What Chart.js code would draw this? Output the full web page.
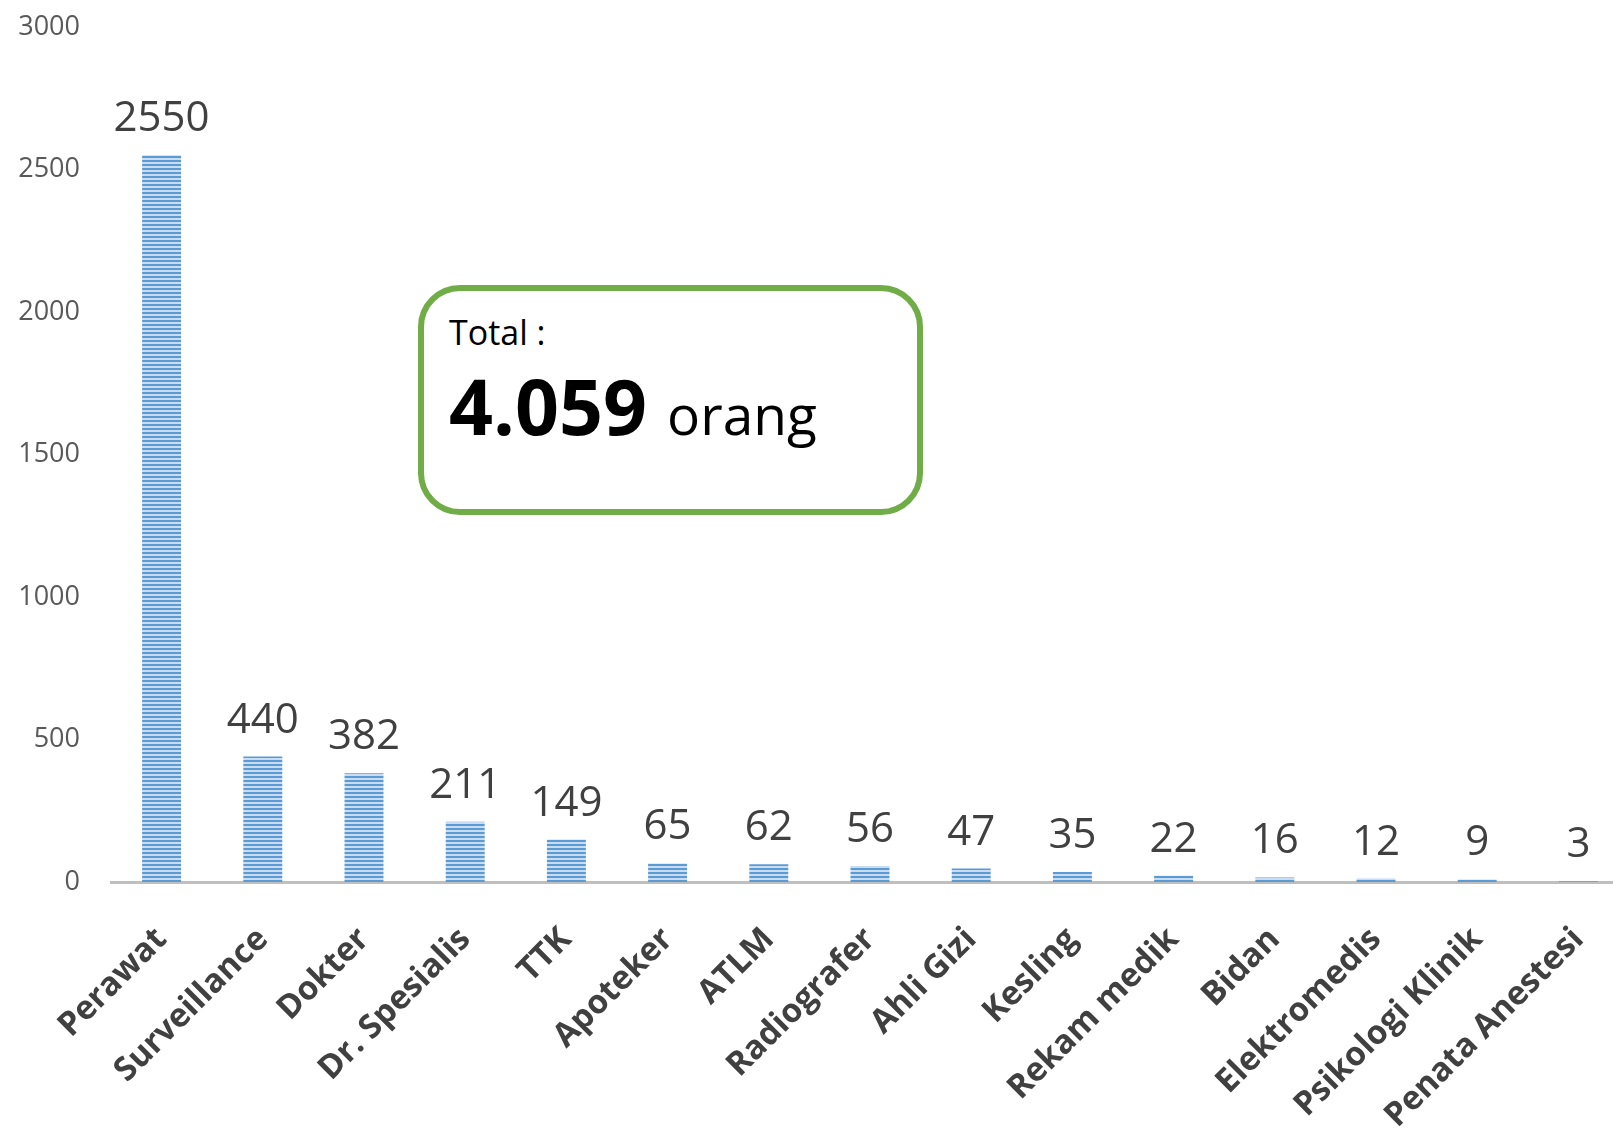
<!DOCTYPE html>
<html>
<head>
<meta charset="utf-8">
<script src="https://cdn.jsdelivr.net/npm/chart.js@4"></script>
<style>
	html, body { margin: 0; padding: 0; background: #fff; overflow: hidden; }
	#wrap { position: relative; width: 1613px; height: 1134px; overflow: hidden; }
	#total {
		position: absolute;
		left: 418px;
		top: 285px;
		width: 493px;
		height: 218px;
		border: 6px solid #70ad47;
		border-radius: 42px;
		background: #fff;
		font-family: "Open Sans", sans-serif;
		color: #000;
	}
	#total .lbl { position: absolute; left: 25px; top: 18px; font-size: 34px; }
	#total .num { position: absolute; left: 25px; top: 62px; font-size: 77px; font-weight: bold; white-space: nowrap; }
	#total .num span { font-size: 55px; font-weight: normal; }
</style>
</head>
<body>
<div id="wrap">
	<canvas id="chart" width="1640" height="1134"></canvas>
	<div id="total">
		<div class="lbl">Total :</div>
		<div class="num">4.059 <span>orang</span></div>
	</div>
</div>
<script>
const categories = ["Perawat", "Surveillance", "Dokter", "Dr. Spesialis", "TTK", "Apoteker", "ATLM",
	"Radiografer", "Ahli Gizi", "Kesling", "Rekam medik", "Bidan", "Elektromedis", "Psikologi Klinik", "Penata Anestesi"];
const jumlah = [2550, 440, 382, 211, 149, 65, 62, 56, 47, 35, 22, 16, 12, 9, 3];
const yTicks = [0, 500, 1000, 1500, 2000, 2500, 3000];

const makeStripes = () => {
	const c = document.createElement("canvas");
	c.width = 4;
	c.height = 4;
	const g = c.getContext("2d");
	g.fillStyle = "#c9dcf0";
	g.fillRect(0, 0, 4, 4);
	g.fillStyle = "#5b9bd5";
	g.fillRect(0, 0, 4, 2);
	return g.createPattern(c, "repeat");
};

const valueLabels = {
	id: "valueLabels",
	afterDatasetsDraw(chart) {
		const ctx = chart.ctx;
		const meta = chart.getDatasetMeta(0);
		ctx.save();
		ctx.font = "42px 'Open Sans', sans-serif";
		ctx.fillStyle = "#404040";
		ctx.textAlign = "center";
		ctx.textBaseline = "bottom";
		meta.data.forEach((bar, i) => {
			ctx.fillText(String(jumlah[i]), bar.x, bar.y - 15);
		});
		ctx.restore();
	},
};

const getChart = () => {
	const ctx = document.getElementById("chart").getContext("2d");
	const stripes = makeStripes();

	const data = {
		labels: categories,
		datasets: [
			{
				data: jumlah,
				backgroundColor: stripes,
				borderWidth: 0,
				barPercentage: 0.385,
				categoryPercentage: 1,
			},
		],
	};

	const options = {
		responsive: false,
		animation: false,
		layout: { padding: { top: 27, right: 11, left: 0, bottom: 0 } },
		plugins: {
			legend: { display: false },
			tooltip: { enabled: false },
		},
		scales: {
			x: {
				grid: { display: false },
				border: { color: "#bfbfbf", width: 3 },
				ticks: {
					color: "#404040",
					font: { family: "'Open Sans', sans-serif", size: 33, weight: "bold" },
					minRotation: 45,
					maxRotation: 45,
					autoSkip: false,
					padding: 30,
				},
				afterFit: s => { s.height = 252; },
			},
			y: {
				min: 0,
				max: 3000,
				grid: { display: false },
				border: { display: false },
				afterBuildTicks: s => { s.ticks = yTicks.map(v => ({ value: v })); },
				ticks: {
					color: "#595959",
					font: { family: "'Open Sans', sans-serif", size: 27 },
					padding: 23,
					callback: v => String(v),
				},
				afterFit: s => {
					s.width = 111;
					s.paddingTop = 0;
					s.paddingBottom = 0;
				},
			},
		},
	};

	new Chart(ctx, {
		type: "bar",
		data: data,
		options: options,
		plugins: [valueLabels],
	});
};
getChart();
</script>
</body>
</html>
